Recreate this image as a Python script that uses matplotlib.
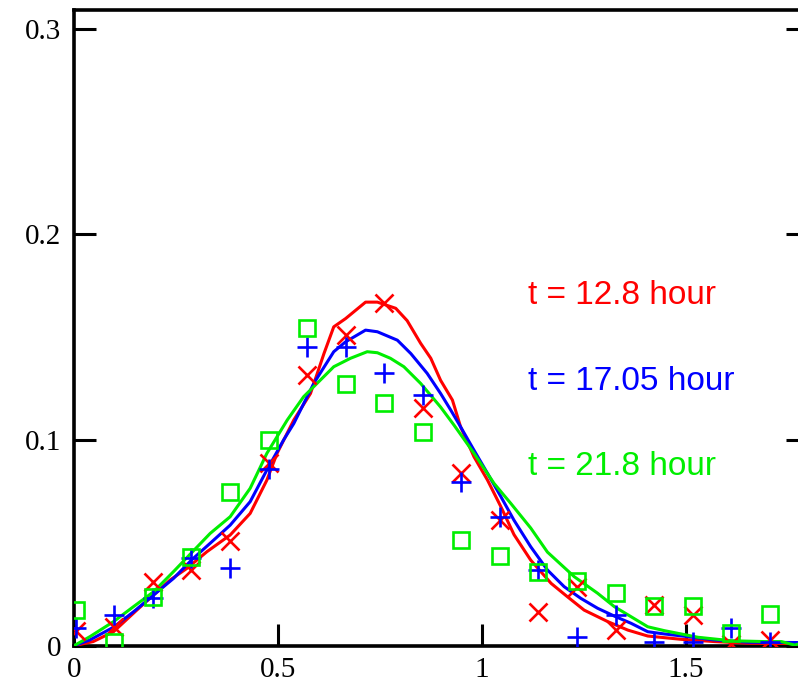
import matplotlib
matplotlib.use("Agg")
import matplotlib.pyplot as plt

# ---- data ----
x_pts = [0.005, 0.099, 0.193, 0.288, 0.382, 0.477, 0.571, 0.666, 0.761, 0.855,
         0.950, 1.044, 1.139, 1.233, 1.328, 1.422, 1.517, 1.611, 1.706, 1.800]
red_pts = [0.007, 0.009, 0.031, 0.037, 0.051, 0.089, 0.1315, 0.151, 0.1664, 0.1153,
           0.0838, 0.061, 0.0165, 0.0287, 0.0076, 0.0198, 0.0149, 0.001, 0.003, 0.006]
blue_pts = [0.0085, 0.015, 0.023, 0.0425, 0.038, 0.086, 0.1453, 0.1453, 0.1324, 0.1218,
            0.0797, 0.0627, 0.0368, 0.0044, 0.0149, 0.002, 0.002, 0.0085, 0.002, 0.001]
green_pts = [0.0173, 0.002, 0.0238, 0.0433, 0.0748, 0.100, 0.1542, 0.127, 0.1178, 0.104,
             0.0514, 0.0436, 0.0357, 0.0316, 0.0255, 0.0193, 0.0193, 0.006, 0.0154, 0.002]

red_x = [0, 0.047, 0.097, 0.154, 0.195, 0.236, 0.277, 0.326, 0.383, 0.432, 0.473, 0.498,
         0.539, 0.58, 0.613, 0.637, 0.666, 0.715, 0.744, 0.789, 0.817, 0.850, 0.875, 0.899,
         0.928, 0.948, 0.981, 1.014, 1.047, 1.079, 1.12, 1.17, 1.21, 1.251, 1.309, 1.358,
         1.407, 1.489, 1.571, 1.653, 1.8]
red_y = [0, 0.002, 0.0068, 0.0173, 0.0246, 0.032, 0.0376, 0.0457, 0.0538, 0.0643, 0.0805,
         0.0935, 0.1097, 0.1226, 0.142, 0.155, 0.159, 0.167, 0.167, 0.164, 0.158, 0.147,
         0.1397, 0.129, 0.1194, 0.1064, 0.0918, 0.0805, 0.0675, 0.054, 0.0416, 0.0303,
         0.0238, 0.0173, 0.0117, 0.0076, 0.0047, 0.0031, 0.002, 0.0012, 0.001]

blue_x = [0, 0.039, 0.097, 0.146, 0.195, 0.244, 0.29, 0.334, 0.383, 0.432, 0.473, 0.514,
          0.539, 0.588, 0.637, 0.666, 0.715, 0.744, 0.793, 0.826, 0.866, 0.899, 0.924,
          0.948, 0.981, 1.014, 1.047, 1.079, 1.12, 1.161, 1.202, 1.243, 1.284, 1.325,
          1.366, 1.407, 1.448, 1.505, 1.571, 1.653, 1.8]
blue_y = [0, 0.0028, 0.009, 0.0165, 0.0246, 0.0327, 0.042, 0.0498, 0.0586, 0.07, 0.0854,
          0.1, 0.108, 0.1275, 0.1429, 0.1477, 0.1534, 0.1526, 0.1485, 0.142, 0.1324,
          0.1226, 0.1145, 0.1064, 0.095, 0.0838, 0.0724, 0.061, 0.0481, 0.0368, 0.0287,
          0.023, 0.0182, 0.0144, 0.0109, 0.0068, 0.0057, 0.0044, 0.0028, 0.0017, 0.0015]

green_x = [0, 0.039, 0.097, 0.146, 0.195, 0.244, 0.285, 0.334, 0.383, 0.432, 0.473, 0.523,
           0.563, 0.596, 0.637, 0.678, 0.719, 0.744, 0.776, 0.809, 0.85, 0.899, 0.932,
           0.981, 1.03, 1.071, 1.12, 1.161, 1.227, 1.284, 1.325, 1.366, 1.407, 1.448,
           1.53, 1.612, 1.694, 1.735, 1.767, 1.8]
green_y = [0, 0.0044, 0.0117, 0.019, 0.0262, 0.036, 0.0445, 0.0546, 0.0627, 0.0765,
           0.0935, 0.1097, 0.121, 0.1275, 0.1356, 0.1397, 0.1429, 0.1424, 0.1397, 0.1356,
           0.1275, 0.116, 0.1072, 0.0935, 0.0789, 0.0692, 0.0572, 0.0455, 0.0335, 0.0255,
           0.019, 0.0141, 0.0092, 0.0073, 0.0041, 0.0024, 0.002, 0.002, 0.0003, 0.002]

labels = ["t = 12.8 hour", "t = 17.05 hour", "t = 21.8 hour"]
label_y = [0.170, 0.1286, 0.0873]
colors = ["#ff0000", "#0000ff", "#00ee00"]

xticks = [0, 0.5, 1, 1.5]
xtick_labels = ["0", "0.5", "1", "1.5"]
yticks = [0, 0.1, 0.2, 0.3]
ytick_labels = ["0", "0.1", "0.2", "0.3"]

# ---- figure ----
fig = plt.figure(figsize=(7.98, 6.92), dpi=100)
ax = fig.add_axes([74 / 798, 46.3 / 692, (808 - 74) / 798, (682 - 46.3) / 692])

lw = 2.2
ax.plot(red_x, red_y, color=colors[0], lw=lw, zorder=3)
ax.plot(blue_x, blue_y, color=colors[1], lw=lw, zorder=3)
ax.plot(green_x, green_y, color=colors[2], lw=lw, zorder=3)

ax.plot(x_pts, red_pts, ls="none", marker="x", ms=13, mew=1.9, color=colors[0], zorder=4)
ax.plot(x_pts, blue_pts, ls="none", marker="+", ms=15, mew=1.9, color=colors[1], zorder=4)
ax.plot(x_pts, green_pts, ls="none", marker="s", ms=11, mew=1.9, mfc="none",
        mec=colors[2], zorder=4)

for lab, yy, c in zip(labels, label_y, colors):
    ax.text(1.113, yy, lab, color=c, fontsize=24, family="Liberation Sans",
            va="center", ha="left")

ax.set_xlim(0, 1.8)
ax.set_ylim(0, 0.309)
ax.set_xticks(xticks)
ax.set_xticklabels(xtick_labels)
ax.set_yticks(yticks)
ax.set_yticklabels(ytick_labels)

for lab in ax.get_xticklabels() + ax.get_yticklabels():
    lab.set_family("Liberation Serif")
    lab.set_fontsize(21)

ax.tick_params(axis="both", direction="in", length=16, width=2.2, colors="black",
               top=False, right=True)
ax.tick_params(axis="x", pad=8)
ax.tick_params(axis="y", pad=9)
for s in ax.spines.values():
    s.set_linewidth(2.6)

fig.savefig("out.png", dpi=100)
